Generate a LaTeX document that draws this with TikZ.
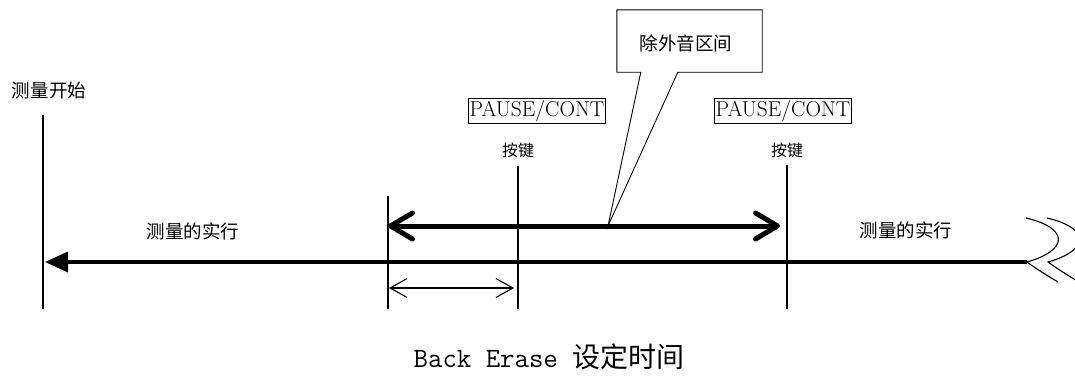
\documentclass[tikz,border=0pt]{standalone}
\usepackage{fontspec}
\newfontfamily\cjk{Noto Sans CJK SC}
\usetikzlibrary{arrows.meta,calc}
\begin{document}
\begin{tikzpicture}[x=1pt,y=-1pt,
  lbl/.style={font=\cjk\fontsize{18.5}{20}\selectfont, inner sep=0pt},
  keylbl/.style={font=\cjk\fontsize{16}{18}\selectfont, inner sep=0pt},
  keybox/.style={draw, line width=0.8pt, font=\fontsize{21.5}{23}\selectfont, inner xsep=1pt, inner ysep=3pt, text height=15pt, text depth=4.5pt},
  vline/.style={line width=1.4pt},
  mainline/.style={line width=3.5pt, -{Triangle[length=23pt,width=20pt]}},
  thickarr/.style={line width=5pt, {Straight Barb[length=22pt,width=26pt,round]}-{Straight Barb[length=22pt,width=26pt,round]}},
  thinarr/.style={line width=1.1pt, {Straight Barb[length=17pt,width=19pt]}-{Straight Barb[length=17pt,width=19pt]}},
  brk/.style={line width=1.1pt}
]
\useasboundingbox (0,0) rectangle (1075,378);
\clip (0,0) rectangle (1075,378);

% labels
\node[lbl] (start) at (49,90) {测量开始};
\node[keybox] (pc1) at (537,111) {PAUSE/CONT};
\node[keybox] (pc2) at (783,111) {PAUSE/CONT};
\node[keylbl] (k1) at (518,150) {按键};
\node[keylbl] (k2) at (787,150) {按键};
\node[lbl] (run1) at (193,231) {测量的实行};
\node[lbl] (run2) at (906,230) {测量的实行};
\node[inner sep=0pt] (title) at (549,357)
  {\fontsize{28}{30}\selectfont\ttfamily Back~Erase \cjk 设定时间};

% vertical markers
\coordinate (vLt) at (43,115);  \coordinate (vLb) at (43,309);
\coordinate (vBt) at (388,196); \coordinate (vBb) at (388,309);
\coordinate (v1t) at (518,166); \coordinate (v1b) at (518,309);
\coordinate (v2t) at (787,165); \coordinate (v2b) at (787,309);
\draw[vline] (vLt) -- (vLb);
\draw[vline] (vBt) -- (vBb);
\draw[vline] (v1t) -- (v1b);
\draw[vline] (v2t) -- (v2b);

% main measurement line with break symbol
\coordinate (brk1) at (1027,262);
\coordinate (mainL) at (45,262);
\draw[mainline] (brk1) -- (mainL);
\draw[brk] (1026,218) .. controls (1069,228) and (1069,250) .. (brk1)
           .. controls (1038,270) and (1048,276) .. (1058,282);
\draw[brk] (1047,218) .. controls (1090,228) and (1090,250) .. (1048,262)
           .. controls (1059,270) and (1069,276) .. (1079,282);

% excluded interval arrow
\coordinate (exL) at (388,226); \coordinate (exR) at (780,226);
\draw[thickarr] (exL) -- (exR);
\coordinate (ptr) at (608,226);

% back erase arrow
\coordinate (beL) at (389,288); \coordinate (beR) at (514,288);
\draw[thinarr] (beL) -- (beR);

% callout
\node[minimum width=145pt, minimum height=62pt, inner sep=0pt] (ex) at (689.5,41) {};
\node[lbl] (extxt) at (686,43) {除外音区间};
\draw[line width=0.9pt, line join=miter] (ex.north west) -- (ex.north east) -- (ex.south east)
  -- ($(ex.south west)+(61,0)$) -- (ptr) -- ($(ex.south west)+(24,0)$) -- (ex.south west) -- cycle;
\end{tikzpicture}
\end{document}
